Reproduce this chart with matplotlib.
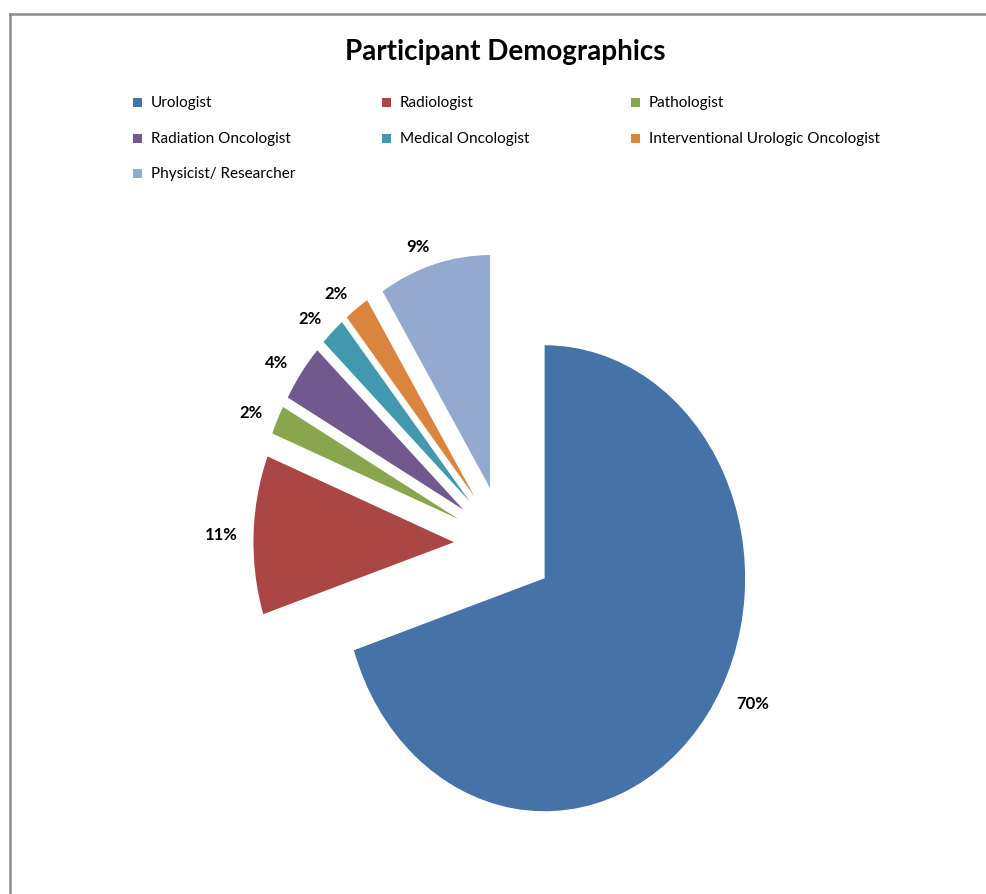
import numpy as np
import matplotlib.pyplot as plt
from matplotlib.patches import Rectangle
from matplotlib.lines import Line2D

plt.rcParams['font.family'] = ['Lato', 'DejaVu Sans']

# Participant specialties and their share (%)
specialties = ['Urologist', 'Radiologist', 'Pathologist', 'Radiation Oncologist',
               'Medical Oncologist', 'Interventional Urologic Oncologist',
               'Physicist/ Researcher']
shares = [70, 11, 2, 4, 2, 2, 9]
colors = ['#4572A7', '#AA4643', '#89A54E', '#71588F', '#4198AF', '#DB843D', '#93A9CF']

fig = plt.figure(figsize=(9.87, 8.95), dpi=100)

# outer frame (only top and left edges show)
fig.add_artist(Line2D([9.5 / 987, 1.0], [1 - 14.5 / 895] * 2, color='#8c8c8c', lw=1.8))
fig.add_artist(Line2D([9.5 / 987] * 2, [0.0, 1 - 14.5 / 895], color='#8c8c8c', lw=1.8))

fig.text(0.512, 1 - 52 / 895, 'Participant Demographics', ha='center', va='center',
         fontsize=20, fontweight='bold')

# legend laid out in three columns
col_x = [133, 382, 631]
row_y = [103, 139, 174]
for i, (name, c) in enumerate(zip(specialties, colors)):
    x = col_x[i % 3]
    y = row_y[i // 3]
    fig.add_artist(Rectangle((x / 987, 1 - (y + 4.5) / 895), 9 / 987, 9 / 895,
                             facecolor=c, edgecolor='none'))
    fig.text((x + 18) / 987, 1 - y / 895, name, ha='left', va='center', fontsize=11)

# pie, slightly squashed horizontally
ax = fig.add_axes([0.1816, 0.0266, 0.6582, 0.7289])
wedges, texts = ax.pie(shares, colors=colors, startangle=90, counterclock=False,
                       explode=[0.25] * len(shares),
                       labels=[f'{s}%' for s in shares], labeldistance=1.08,
                       textprops=dict(fontsize=12, fontweight='bold'))
ax.set_aspect('auto')
ax.set_xlim(-1.62, 1.62)
ax.set_ylim(-1.4, 1.4)

# big slice label sits a little higher and further out
lx, ly = texts[0].get_position()
texts[0].set_position((lx + 0.08, ly + 0.1))

fig.savefig('out.png', dpi=100, facecolor='white')
